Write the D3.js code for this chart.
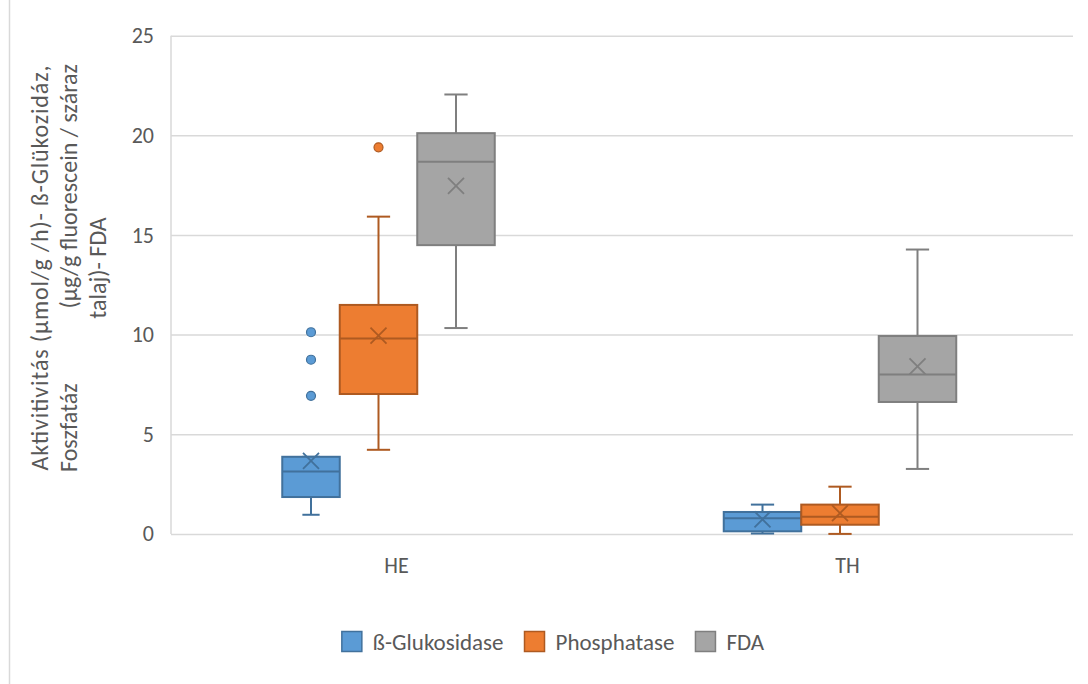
<!DOCTYPE html>
<html>
<head>
<meta charset="utf-8">
<script src="https://cdn.jsdelivr.net/npm/d3@7"></script>
<style>
  body { margin: 0; background: #fff; }
  text { font-family: Carlito, Calibri, Lato, sans-serif; fill: #595959; }
</style>
</head>
<body>
<div id="chart"></div>
<script>
// data
var categories = ["HE", "TH"];
var seriesNames = ["ß-Glukosidase", "Phosphatase", "FDA"];
var yTicks = [0, 5, 10, 15, 20, 25];

var glukMin = [0.96, 0.02],  glukQ1 = [1.85, 0.13], glukMed = [3.13, 0.78],
    glukQ3 = [3.87, 1.10],   glukMax = [3.87, 1.47], glukMean = [3.67, 0.73],
    glukOut = [[6.93, 8.74, 10.12], []];

var phosMin = [4.22, 0.0],   phosQ1 = [7.02, 0.46],  phosMed = [9.81, 0.86],
    phosQ3 = [11.49, 1.47],  phosMax = [15.92, 2.37], phosMean = [9.95, 1.04],
    phosOut = [[19.40], []];

var fdaMin = [10.33, 3.26],  fdaQ1 = [14.49, 6.62],  fdaMed = [18.68, 8.00],
    fdaQ3 = [20.11, 9.93],   fdaMax = [22.05, 14.27], fdaMean = [17.46, 8.41],
    fdaOut = [[], []];

var fills = ["#5B9BD5", "#ED7D31", "#A5A5A5"],
    strokes = ["#41719C", "#AE5A21", "#7F7F7F"];

var W = 1088, H = 684,
    pLeft = 171, pRight = 1073, pTop = 35.7, pBottom = 533.9;

// excel shifts the groups a bit left of the tick, and the first HE box is narrower
var groupShift = [-18, -7.5],
    boxW = 77.5;

function pack(mn, q1, md, q3, mx, mean, out) {
    return categories.map(function (c, i) {
        return {cat: c, min: mn[i], q1: q1[i], med: md[i], q3: q3[i], max: mx[i], mean: mean[i], out: out[i]};
    });
}
var stats = [
    pack(glukMin, glukQ1, glukMed, glukQ3, glukMax, glukMean, glukOut),
    pack(phosMin, phosQ1, phosMed, phosQ3, phosMax, phosMean, phosOut),
    pack(fdaMin, fdaQ1, fdaMed, fdaQ3, fdaMax, fdaMean, fdaOut)
];

var svg = d3.select('#chart').append('svg')
    .attr('width', W)
    .attr('height', H)
    .style('background', '#fff');

// chart frame (only left edge is visible)
svg.append('line')
    .attr('x1', 9.5).attr('x2', 9.5).attr('y1', 0).attr('y2', H)
    .attr('stroke', '#d9d9d9').attr('stroke-width', 1.5);

var x = d3.scaleBand().domain(categories).range([pLeft, pRight]);
var y = d3.scaleLinear().domain([0, 25]).range([pBottom, pTop]);

// grid + y labels
var yAxis = svg.append('g')
    .attr('transform', 'translate(' + pLeft + ',0)')
    .call(d3.axisLeft(y).tickValues(yTicks).tickSize(-(pRight - pLeft)).tickPadding(17));
yAxis.select('.domain').remove();
yAxis.selectAll('.tick line').attr('stroke', '#d9d9d9').attr('stroke-width', 1.5);
yAxis.selectAll('.tick text').style('font-size', '22px').attr('fill', '#595959');

svg.append('line')
    .attr('x1', pLeft).attr('x2', pLeft).attr('y1', pTop).attr('y2', pBottom)
    .attr('stroke', '#d9d9d9').attr('stroke-width', 1.5);

var xAxis = svg.append('g')
    .attr('transform', 'translate(0,' + pBottom + ')')
    .call(d3.axisBottom(x).tickSize(0).tickPadding(23));
xAxis.select('.domain').remove();
xAxis.selectAll('.tick text').style('font-size', '22px').attr('fill', '#595959');

// boxes
stats.forEach(function (ser, si) {
    var g = svg.append('g');
    ser.forEach(function (d, ci) {
        var cx = x(d.cat) + x.bandwidth() / 2 + groupShift[ci];
        var inner = d3.scaleBand().domain(seriesNames).range([cx - 1.5 * boxW, cx + 1.5 * boxW]);
        var x0 = inner(seriesNames[si]), x1 = x0 + boxW;
        if (ci === 0 && si === 0) x0 += 20;
        var mid = (x0 + x1) / 2, cap = (x1 - x0) * 0.3;
        var st = strokes[si];

        // whiskers
        [[d.q3, d.max], [d.q1, d.min]].forEach(function (w) {
            g.append('line').attr('x1', mid).attr('x2', mid)
                .attr('y1', y(w[0])).attr('y2', y(w[1]))
                .attr('stroke', st).attr('stroke-width', 2);
            g.append('line').attr('x1', mid - cap / 2).attr('x2', mid + cap / 2)
                .attr('y1', y(w[1])).attr('y2', y(w[1]))
                .attr('stroke', st).attr('stroke-width', 2);
        });

        g.append('rect')
            .attr('x', x0).attr('y', y(d.q3))
            .attr('width', x1 - x0).attr('height', y(d.q1) - y(d.q3))
            .attr('fill', fills[si]).attr('stroke', st).attr('stroke-width', 2);
        g.append('line').attr('x1', x0).attr('x2', x1)
            .attr('y1', y(d.med)).attr('y2', y(d.med))
            .attr('stroke', st).attr('stroke-width', 2);

        // mean marker
        var m = 8, my = y(d.mean);
        g.append('path')
            .attr('d', 'M' + (mid - m) + ',' + (my - m) + 'L' + (mid + m) + ',' + (my + m) +
                       'M' + (mid - m) + ',' + (my + m) + 'L' + (mid + m) + ',' + (my - m))
            .attr('stroke', st).attr('stroke-width', 1.8).attr('fill', 'none');

        g.selectAll(null).data(d.out).enter().append('circle')
            .attr('cx', mid).attr('cy', function (v) { return y(v); })
            .attr('r', 4.5)
            .attr('fill', fills[si]).attr('stroke', st).attr('stroke-width', 1.2);
    });
});

// y axis title
function titleLine(txt, tx, ty, anchor, len) {
    var t = svg.append('text')
        .attr('transform', 'translate(' + tx + ',' + ty + ') rotate(-90)')
        .attr('text-anchor', anchor)
        .attr('dy', '0.35em')
        .style('font-size', '24px')
        .text(txt);
    if (len) t.attr('textLength', len).attr('lengthAdjust', 'spacing');
    return t;
}
titleLine('Aktivitivitás (µmol/g /h)- ß-Glükozidáz,', 40, 268, 'middle', 405);
titleLine('Foszfatáz', 69, 472, 'start');
titleLine('(µg/g fluorescein / száraz', 69, 64, 'end');
titleLine('talaj)- FDA', 98, 268, 'middle');

// legend
var leg = svg.append('g');
var lx = 0;
seriesNames.forEach(function (s, i) {
    var it = leg.append('g').attr('transform', 'translate(' + lx + ',0)');
    it.append('rect').attr('x', 0).attr('y', -10).attr('width', 20).attr('height', 20)
        .attr('fill', fills[i]).attr('stroke', strokes[i]).attr('stroke-width', 1.5);
    var t = it.append('text').attr('x', 31).attr('dy', '0.35em')
        .style('font-size', '23px').text(s);
    lx += 31 + t.node().getComputedTextLength() + 21;
});
lx -= 21;
leg.attr('transform', 'translate(' + (553 - lx / 2) + ',641.5)');
</script>
</body>
</html>
